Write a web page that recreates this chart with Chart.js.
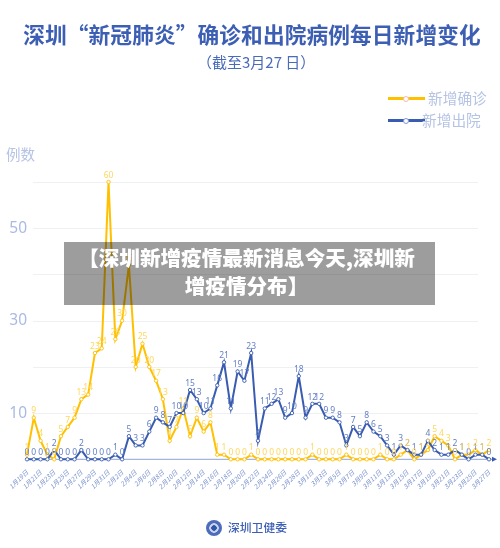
<!DOCTYPE html>
<html lang="zh">
<head>
<meta charset="utf-8">
<title>深圳新增疫情</title>
<script src="https://cdn.jsdelivr.net/npm/chart.js@4/dist/chart.umd.min.js"></script>
<style>
  html, body { margin: 0; padding: 0; background: #fff; }
  #page { position: relative; width: 500px; height: 548px; overflow: hidden; font-family: "Noto Sans CJK SC", "Noto Sans", sans-serif; }
  #page canvas { position: absolute; left: 0; top: 0; }
  .txt { position: absolute; white-space: nowrap; line-height: 1; }
  #title { left: 2px; width: 500px; top: 23px; text-align: center; font-size: 21.7px; font-weight: 700; letter-spacing: 0.1px; color: #3d5fb3; }
  #subtitle { left: 197px; top: 54px; font-size: 15px; color: #4a6bb9; }
  #unit { left: 6px; top: 147px; font-size: 14.5px; color: #b5c3e4; }
  .legend-text { font-size: 14.7px; color: #b5c3e4; }
  .legend-line { position: absolute; left: 388px; width: 37px; height: 2.5px; }
  .legend-dot { position: absolute; left: 403px; width: 4px; height: 4px; border-radius: 50%; background: #fff; border: 1px solid; }
  #banner { position: absolute; left: 64px; top: 242px; width: 371px; height: 63px; background: rgba(0,0,0,0.385); color: #fff; font-weight: 900; font-size: 20.6px; line-height: 28px; text-align: center; padding: 1px 6px 0 0; box-sizing: border-box; }
  #logo { position: absolute; left: 206px; top: 520px; width: 16px; height: 16px; border-radius: 50%; background: radial-gradient(circle, #2f55a8 0 2.5px, #c8d4ee 3px 4.5px, #4d6dbb 5px 8px); }
  #footer { left: 228px; top: 521px; font-size: 11.8px; font-weight: 500; color: #3d5fb3; }
</style>
</head>
<body>
<div id="page">
  <canvas id="chart" width="500" height="548"></canvas>
  <div class="txt" id="title">深圳“新冠肺炎”确诊和出院病例每日新增变化</div>
  <div class="txt" id="subtitle">（截至3月27 日）</div>
  <div class="legend-line" style="top:97px;background:#ffc000"></div>
  <div class="legend-dot" style="top:96px;border-color:#f7b9b0"></div>
  <div class="txt legend-text" style="left:428px;top:91px">新增确诊</div>
  <div class="legend-line" style="top:119px;background:#3a5cb0"></div>
  <div class="legend-dot" style="top:118px;border-color:#7f98d6"></div>
  <div class="txt legend-text" style="left:422px;top:113px">新增出院</div>
  <div class="txt" id="unit">例数</div>
  <div id="banner">【深圳新增疫情最新消息今天,深圳新<br>增疫情分布】</div>
  <div id="logo"></div>
  <div class="txt" id="footer">深圳卫健委</div>
</div>
<script>
const dates = [
  "1月19日","1月20日","1月21日","1月22日","1月23日","1月24日","1月25日","1月26日","1月27日","1月28日","1月29日","1月30日","1月31日",
  "2月1日","2月2日","2月3日","2月4日","2月5日","2月6日","2月7日","2月8日","2月9日","2月10日","2月11日","2月12日","2月13日","2月14日","2月15日",
  "2月16日","2月17日","2月18日","2月19日","2月20日","2月21日","2月22日","2月23日","2月24日","2月25日","2月26日","2月27日","2月28日","2月29日",
  "3月1日","3月2日","3月3日","3月4日","3月5日","3月6日","3月7日","3月8日","3月9日","3月10日","3月11日","3月12日","3月13日","3月14日",
  "3月15日","3月16日","3月17日","3月18日","3月19日","3月20日","3月21日","3月22日","3月23日","3月24日","3月25日","3月26日","3月27日"
];
const confirmed = [
  1,9,4,1,0,5,7,9,13,14,23,24,60,
  26,30,42,20,25,20,17,13,4,7,11,5,9,6,8,
  1,1,0,0,0,1,0,0,0,0,0,0,0,0,
  1,0,0,0,0,1,0,0,0,0,1,0,0,1,
  2,0,1,2,5,4,3,0,1,1,2,1,2
];
const discharged = [
  0,0,0,0,2,0,0,0,2,0,0,0,0,
  1,0,5,3,3,6,9,8,7,10,10,15,13,10,11,
  16,21,11,19,17,23,4,11,12,13,9,10,18,9,
  12,12,9,9,8,3,7,5,8,6,5,3,1,3,
  2,1,1,4,2,1,1,2,1,0,1,1,0
];
const gridValues = [10, 20, 30, 40, 50, 60];
const yTickLabels = [10, 30, 50];

const yellow = "#ffc000";
const blue = "#3a5cb0";

// grid lines, axis arrow and the value labels above the points
const extras = {
  id: "extras",
  beforeDatasetsDraw(chart) {
    const { ctx, scales } = chart;
    ctx.save();
    ctx.strokeStyle = "#eff0f3";
    ctx.lineWidth = 1;
    gridValues.forEach(v => {
      const y = Math.round(scales.y.getPixelForValue(v)) + 0.5;
      ctx.beginPath();
      ctx.moveTo(33, y);
      ctx.lineTo(478, y);
      ctx.stroke();
    });
    const y0 = scales.y.getPixelForValue(0);
    ctx.strokeStyle = "#8ea3d9";
    ctx.beginPath();
    ctx.moveTo(27, y0);
    ctx.lineTo(494, y0);
    ctx.stroke();
    ctx.fillStyle = "#3a5cb0";
    ctx.beginPath();
    ctx.moveTo(497, y0);
    ctx.lineTo(492, y0 - 2.5);
    ctx.lineTo(492, y0 + 2.5);
    ctx.closePath();
    ctx.fill();
    ctx.restore();
  },
  afterDatasetsDraw(chart) {
    const { ctx } = chart;
    ctx.save();
    ctx.font = '8.5px "Noto Sans", sans-serif';
    ctx.textAlign = "center";
    ctx.textBaseline = "bottom";
    chart.data.datasets.forEach((ds, i) => {
      ctx.fillStyle = ds.labelColor;
      chart.getDatasetMeta(i).data.forEach((pt, j) => {
        ctx.fillText(ds.data[j], pt.x, pt.y - 2.5);
      });
    });
    ctx.restore();
  }
};

new Chart(document.getElementById("chart"), {
  type: "line",
  data: {
    labels: dates,
    datasets: [
      {
        label: "新增出院", data: discharged, borderColor: blue, backgroundColor: "#fff",
        borderWidth: 2, pointRadius: 1.7, pointBorderWidth: 0.9, tension: 0, clip: false,
        labelColor: "#6580c6"
      },
      {
        label: "新增确诊", data: confirmed, borderColor: yellow, backgroundColor: "#fff",
        borderWidth: 2, pointRadius: 1.7, pointBorderWidth: 0.9, tension: 0, clip: false,
        labelColor: "#ffd75e"
      }
    ]
  },
  options: {
    responsive: false,
    animation: false,
    layout: { padding: { top: 182, right: 11, bottom: 0, left: 0 } },
    plugins: { legend: { display: false }, title: { display: false }, tooltip: { enabled: false } },
    scales: {
      x: {
        offset: false,
        grid: { display: false },
        border: { display: false },
        afterFit(scale) { scale.height = 88.7; },
        ticks: {
          autoSkip: false, maxRotation: 45, minRotation: 45, padding: 1,
          color: "#7890cd",
          font: { size: 6.5, style: "italic", family: '"Noto Sans CJK SC", sans-serif' },
          callback(value, index) { return index % 2 === 0 ? dates[index] : ""; }
        }
      },
      y: {
        min: 0, max: 60,
        grid: { display: false },
        border: { display: false },
        afterFit(scale) { scale.width = 27; },
        ticks: {
          stepSize: 10, padding: -8, color: "#aabae2",
          font: { size: 15.5, family: '"Noto Sans", sans-serif' },
          callback(value) { return yTickLabels.includes(value) ? value : ""; }
        }
      }
    }
  },
  plugins: [extras]
});
</script>
</body>
</html>
